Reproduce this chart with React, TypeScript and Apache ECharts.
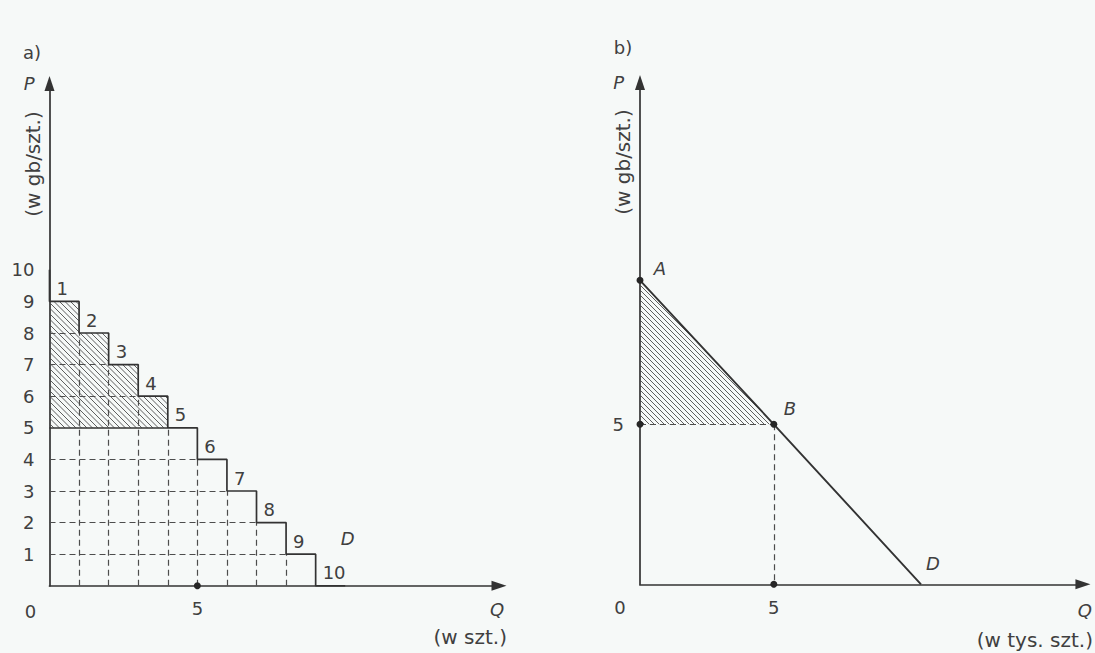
import React, { useEffect, useRef } from "react";
import * as echarts from "echarts";

// ---- Panel a: discrete demand, one unit per buyer ----
const UNIT_NUMBERS = [1, 2, 3, 4, 5, 6, 7, 8, 9, 10];
const UNIT_PRICES = [9, 8, 7, 6, 5, 4, 3, 2, 1, 0];
const CHOKE_PRICE_A = 10;
const MARKET_PRICE_A = 5;
const Y_TICKS_A = [1, 2, 3, 4, 5, 6, 7, 8, 9, 10];
const X_TICKS_A = [5];

// ---- Panel b: linear demand through A, B and D ----
const DEMAND_B = [
  [0, 9.5],
  [5, 5],
  [10.5, 0],
];
const DEMAND_B_NAMES = ["A", "B", "D"];
const MARKET_PRICE_B = 5;
const MARKET_QTY_B = 5;
const Y_TICKS_B = [5];
const X_TICKS_B = [5];

const FONT = '"DejaVu Sans", "Liberation Sans", sans-serif';
const INK = "#333333";
const SOFT_INK = "#4d4d4d";
const TEXT = "#404040";
const BG = "#f6f9f8";

// Diagonal "\\" hatching clipped to a convex polygon given in pixels
function hatch(pts: number[][], step: number, style: any) {
  const ks = pts.map((p) => p[1] - p[0]);
  const kMin = Math.min(...ks);
  const kMax = Math.max(...ks);
  const out: any[] = [];
  for (let k = Math.ceil(kMin / step) * step; k <= kMax; k += step) {
    const hits: number[][] = [];
    for (let i = 0; i < pts.length; i++) {
      const p = pts[i];
      const q = pts[(i + 1) % pts.length];
      const kp = p[1] - p[0];
      const kq = q[1] - q[0];
      if (kp === kq) continue;
      const t = (k - kp) / (kq - kp);
      if (t < 0 || t > 1) continue;
      hits.push([p[0] + t * (q[0] - p[0]), p[1] + t * (q[1] - p[1])]);
    }
    if (hits.length < 2) continue;
    hits.sort((a, b) => a[0] - b[0]);
    const a = hits[0];
    const b = hits[hits.length - 1];
    if (b[0] - a[0] < 0.5) continue;
    out.push({
      type: "line",
      shape: { x1: a[0], y1: a[1], x2: b[0], y2: b[1] },
      style,
    });
  }
  return out;
}

const hatchStyle = { stroke: SOFT_INK, lineWidth: 0.9 };

function buildOption() {
  // step demand curve
  const stepPath: number[][] = [[0, CHOKE_PRICE_A]];
  UNIT_PRICES.forEach((p, i) => {
    stepPath.push([i, p], [i + 1, p]);
  });

  const marketQtyA = UNIT_PRICES.filter((p) => p >= MARKET_PRICE_A).length;
  const surplusUnits = UNIT_PRICES.map((p, i) => ({ p, i })).filter(
    (u) => u.p > MARKET_PRICE_A
  );

  // rectangles of consumer surplus: [x0, x1, yLow, yHigh]
  const surplusRects = surplusUnits.map((u) => [u.i, u.i + 1, MARKET_PRICE_A, u.p]);

  // dashed grid under the steps
  const dashedA: any[] = [];
  UNIT_PRICES.forEach((p, i) => {
    if (p > 0 && i > 0 && p !== MARKET_PRICE_A) {
      dashedA.push({ coords: [[0, p], [i, p]] });
    }
  });
  for (let i = 1; i < UNIT_PRICES.length - 1; i++) {
    const p = UNIT_PRICES[i];
    if (p > 0) dashedA.push({ coords: [[i, 0], [i, p]] });
  }

  const unitLabels = UNIT_NUMBERS.map((n, i) => [i, UNIT_PRICES[i], n]);

  const labelText = { color: TEXT, fontSize: 18, fontFamily: FONT };
  const italicText = { ...labelText, fontStyle: "italic" };
  const solidItem = { color: "#262626", opacity: 1 };

  const axisLine = () => ({
    show: true,
    onZero: false,
    symbol: ["none", "triangle"],
    symbolSize: [10, 15],
    lineStyle: { color: INK, width: 1.7 },
  });

  const tri = DEMAND_B[0];
  const triangle = [tri[0], tri[1], MARKET_QTY_B, MARKET_PRICE_B, 0, MARKET_PRICE_B];

  return {
    animation: false,
    backgroundColor: BG,
    grid: [
      { left: 49.5, top: 83.4, width: 449.5, height: 502.4 },
      { left: 640, top: 82.5, width: 450.2, height: 501.8 },
    ],
    xAxis: [
      {
        type: "value",
        gridIndex: 0,
        min: 0,
        max: 15.2,
        interval: 5,
        axisLine: axisLine(),
        axisTick: { show: false },
        splitLine: { show: false },
        axisLabel: {
          ...labelText,
          margin: 14,
          formatter: (v: number) => (X_TICKS_A.includes(v) ? String(v) : ""),
        },
        name: "Q",
        nameLocation: "end",
        nameGap: -2,
        nameTextStyle: { ...italicText, align: "center", verticalAlign: "top", padding: [15, 0, 0, 0] },
      },
      {
        type: "value",
        gridIndex: 1,
        min: 0,
        max: 16.55,
        interval: 5,
        axisLine: axisLine(),
        axisTick: { show: false },
        splitLine: { show: false },
        axisLabel: {
          ...labelText,
          margin: 14,
          formatter: (v: number) => (X_TICKS_B.includes(v) ? String(v) : ""),
        },
        name: "Q",
        nameLocation: "end",
        nameGap: 2,
        nameTextStyle: { ...italicText, align: "center", verticalAlign: "top", padding: [17, 0, 0, 0] },
      },
    ],
    yAxis: [
      {
        type: "value",
        gridIndex: 0,
        min: 0,
        max: 15.9,
        interval: 1,
        axisLine: axisLine(),
        axisTick: { show: false },
        splitLine: { show: false },
        axisLabel: {
          ...labelText,
          margin: 15,
          padding: [8, 0, 0, 0],
          formatter: (v: number) => (Y_TICKS_A.includes(v) ? String(v) : ""),
        },
        name: "P",
        nameLocation: "end",
        nameGap: 0,
        nameTextStyle: { ...italicText, align: "right", verticalAlign: "middle", padding: [0, 15, 0, 0] },
      },
      {
        type: "value",
        gridIndex: 1,
        min: 0,
        max: 15.68,
        interval: 1,
        axisLine: axisLine(),
        axisTick: { show: false },
        splitLine: { show: false },
        axisLabel: {
          ...labelText,
          margin: 16,
          padding: [8, 0, 0, 0],
          formatter: (v: number) => (Y_TICKS_B.includes(v) ? String(v) : ""),
        },
        name: "P",
        nameLocation: "end",
        nameGap: 0,
        nameTextStyle: { ...italicText, align: "right", verticalAlign: "middle", padding: [0, 16, 0, 0] },
      },
    ],
    graphic: [
      { type: "text", x: 32, y: 52, style: { text: "a)", fill: TEXT, font: `18px ${FONT}`, align: "center", verticalAlign: "middle" } },
      { type: "text", x: 623, y: 47, style: { text: "b)", fill: TEXT, font: `18px ${FONT}`, align: "center", verticalAlign: "middle" } },
      { type: "text", x: 33, y: 164, rotation: Math.PI / 2, style: { text: "(w gb/szt.)", fill: TEXT, font: `20px ${FONT}`, align: "center", verticalAlign: "middle" } },
      { type: "text", x: 623, y: 162, rotation: Math.PI / 2, style: { text: "(w gb/szt.)", fill: TEXT, font: `20px ${FONT}`, align: "center", verticalAlign: "middle" } },
      { type: "text", x: 507, y: 637, style: { text: "(w szt.)", fill: TEXT, font: `20px ${FONT}`, align: "right", verticalAlign: "middle" } },
      { type: "text", x: 1093, y: 640, style: { text: "(w tys. szt.)", fill: TEXT, font: `20px ${FONT}`, align: "right", verticalAlign: "middle" } },
    ],
    series: [
      // ---------- panel a ----------
      {
        type: "custom",
        xAxisIndex: 0,
        yAxisIndex: 0,
        z: 1,
        data: surplusRects,
        renderItem: (params: any, api: any) => {
          const x0 = api.value(0), x1 = api.value(1), y0 = api.value(2), y1 = api.value(3);
          const pts = [
            api.coord([x0, y1]),
            api.coord([x1, y1]),
            api.coord([x1, y0]),
            api.coord([x0, y0]),
          ];
          return { type: "group", children: hatch(pts, 5.5, hatchStyle) };
        },
      },
      {
        type: "lines",
        coordinateSystem: "cartesian2d",
        xAxisIndex: 0,
        yAxisIndex: 0,
        z: 2,
        data: dashedA,
        lineStyle: { color: SOFT_INK, width: 1.2, type: [6, 4], opacity: 1 },
      },
      {
        type: "lines",
        coordinateSystem: "cartesian2d",
        xAxisIndex: 0,
        yAxisIndex: 0,
        z: 3,
        data: [{ coords: [[0, MARKET_PRICE_A], [marketQtyA - 1, MARKET_PRICE_A]] }],
        lineStyle: { color: INK, width: 1.5, type: "solid", opacity: 1 },
      },
      {
        type: "line",
        xAxisIndex: 0,
        yAxisIndex: 0,
        z: 4,
        data: stepPath,
        showSymbol: false,
        symbol: "none",
        lineStyle: { color: INK, width: 1.7 },
      },
      {
        type: "scatter",
        xAxisIndex: 0,
        yAxisIndex: 0,
        z: 5,
        data: unitLabels,
        symbolSize: 0,
        itemStyle: solidItem,
        label: {
          show: true,
          position: "right",
          distance: 0,
          offset: [7, -13],
          formatter: (p: any) => String(p.value[2]),
          ...labelText,
        },
      },
      {
        type: "scatter",
        xAxisIndex: 0,
        yAxisIndex: 0,
        z: 5,
        data: [[UNIT_PRICES.length - 1, UNIT_PRICES[UNIT_PRICES.length - 2]]],
        symbolSize: 0,
        itemStyle: solidItem,
        label: { show: true, position: "inside", offset: [32, -16], formatter: "D", ...italicText },
      },
      {
        type: "scatter",
        xAxisIndex: 0,
        yAxisIndex: 0,
        z: 6,
        data: [[marketQtyA, 0]],
        symbolSize: 7,
        itemStyle: solidItem,
      },
      {
        type: "scatter",
        xAxisIndex: 0,
        yAxisIndex: 0,
        z: 5,
        data: [[0, 0]],
        symbolSize: 0,
        itemStyle: solidItem,
        label: { show: true, position: "inside", offset: [-19, 26], formatter: "0", ...labelText },
      },
      // ---------- panel b ----------
      {
        type: "custom",
        xAxisIndex: 1,
        yAxisIndex: 1,
        z: 1,
        data: [triangle],
        renderItem: (params: any, api: any) => {
          const pts = [
            api.coord([api.value(0), api.value(1)]),
            api.coord([api.value(2), api.value(3)]),
            api.coord([api.value(4), api.value(5)]),
          ];
          return { type: "group", children: hatch(pts, 5, hatchStyle) };
        },
      },
      {
        type: "lines",
        coordinateSystem: "cartesian2d",
        xAxisIndex: 1,
        yAxisIndex: 1,
        z: 2,
        data: [
          { coords: [[0, MARKET_PRICE_B], [MARKET_QTY_B, MARKET_PRICE_B]] },
          { coords: [[MARKET_QTY_B, MARKET_PRICE_B], [MARKET_QTY_B, 0]] },
        ],
        lineStyle: { color: SOFT_INK, width: 1.2, type: [6, 4], opacity: 1 },
      },
      {
        type: "line",
        xAxisIndex: 1,
        yAxisIndex: 1,
        z: 4,
        data: DEMAND_B,
        showSymbol: false,
        symbol: "none",
        lineStyle: { color: INK, width: 1.9 },
      },
      {
        type: "scatter",
        xAxisIndex: 1,
        yAxisIndex: 1,
        z: 6,
        data: [DEMAND_B[0], [0, MARKET_PRICE_B], [MARKET_QTY_B, MARKET_PRICE_B], [MARKET_QTY_B, 0]],
        symbolSize: 7,
        itemStyle: solidItem,
      },
      {
        type: "scatter",
        xAxisIndex: 1,
        yAxisIndex: 1,
        z: 5,
        data: DEMAND_B.map((pt, i) => ({ value: pt, name: DEMAND_B_NAMES[i] })),
        symbolSize: 0,
        itemStyle: solidItem,
        label: {
          show: true,
          position: "inside",
          formatter: (p: any) => p.name,
          ...italicText,
        },
        labelLayout: (p: any) => {
          const offs: Record<string, number[]> = { A: [20, -12], B: [16, -16], D: [12, -21] };
          const o = offs[p.text] || [0, 0];
          return { dx: o[0], dy: o[1] };
        },
      },
      {
        type: "scatter",
        xAxisIndex: 1,
        yAxisIndex: 1,
        z: 5,
        data: [[0, 0]],
        symbolSize: 0,
        itemStyle: solidItem,
        label: { show: true, position: "inside", offset: [-20, 23], formatter: "0", ...labelText },
      },
    ],
  };
}

export default function App() {
  const ref = useRef<HTMLDivElement>(null);
  useEffect(() => {
    if (!ref.current) return;
    const chart = echarts.init(ref.current, null, { renderer: "svg" });
    chart.setOption(buildOption() as any);
    return () => chart.dispose();
  }, []);
  return (
    <div
      ref={ref}
      style={{ position: "fixed", left: 0, top: 0, width: 1095, height: 653, background: BG }}
    />
  );
}
